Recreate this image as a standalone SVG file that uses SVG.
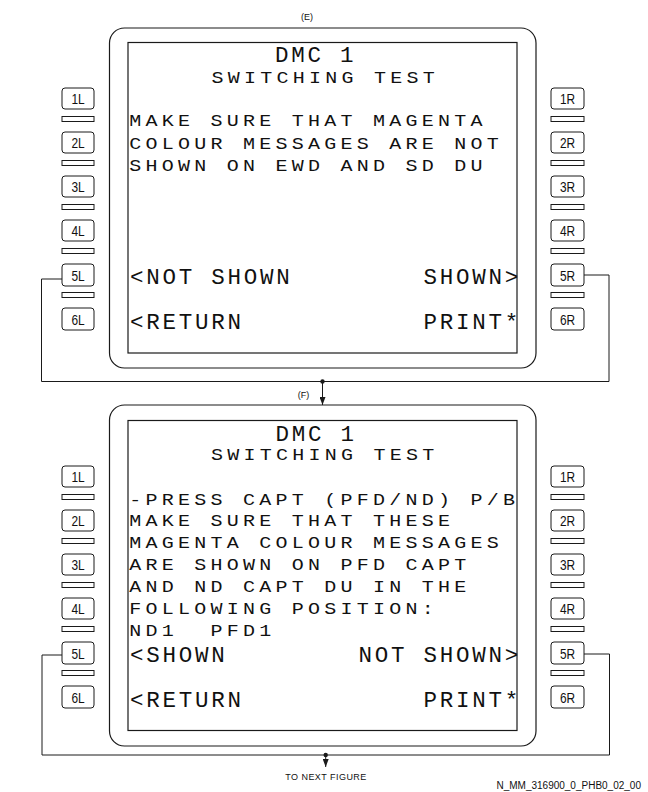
<svg xmlns="http://www.w3.org/2000/svg" width="648" height="792" viewBox="0 0 648 792">
<style>
  .bz{fill:none;stroke:#1a1a1a;stroke-width:1.2}
  .scr{fill:none;stroke:#1a1a1a;stroke-width:1.2}
  .key{fill:#fff;stroke:#1a1a1a;stroke-width:1}
  .sep{fill:#fff;stroke:#1a1a1a;stroke-width:1}
  .kt{font-family:"Liberation Sans",Arial,sans-serif;font-size:14px;text-anchor:middle;fill:#111}
  .b{font-family:"Liberation Mono","DejaVu Sans Mono",monospace;font-size:16px;letter-spacing:3.4px;fill:#111}
  .l{font-family:"Liberation Mono","DejaVu Sans Mono",monospace;font-size:22.5px;letter-spacing:2.75px;fill:#111}
  .sm{font-family:"Liberation Sans",Arial,sans-serif;font-size:9px;fill:#111}
  .cn{fill:none;stroke:#1a1a1a;stroke-width:1}
</style>
<defs>
  <marker id="ah" markerUnits="userSpaceOnUse" markerWidth="9" markerHeight="6" refX="8" refY="3" orient="auto">
    <path d="M0,0 L8,3 L0,6 z" fill="#1a1a1a"/>
  </marker>
</defs>

<text class="sm" x="307" y="19.5" text-anchor="middle">(E)</text>

<!-- Top display -->
<g id="display-top">
  <rect class="bz" x="109.5" y="28" width="426.5" height="340" rx="15"/>
  <rect class="scr" x="128" y="42.5" width="389" height="310.5"/>
  <text class="l" x="275" y="62">DMC 1</text>
  <text class="b" transform="translate(211.5,83) scale(1.25,1)">SWITCHING TEST</text>
  <text class="b" transform="translate(129.2,126) scale(1.25,1)">MAKE SURE THAT MAGENTA</text>
  <text class="b" transform="translate(129.2,148.5) scale(1.25,1)">COLOUR MESSAGES ARE NOT</text>
  <text class="b" transform="translate(129.2,171) scale(1.25,1)">SHOWN ON EWD AND SD DU</text>
  <text class="l" x="130" y="284">&lt;NOT SHOWN</text>
  <text class="l" x="423.5" y="284">SHOWN&gt;</text>
  <text class="l" x="130" y="328.5">&lt;RETURN</text>
  <text class="l" x="423.5" y="328.5">PRINT*</text>
</g>

<g id="keys-top-left">
  <rect class="key" x="62" y="88" width="32" height="21" rx="3"/><text class="kt" transform="translate(78,104) scale(0.85,1)">1L</text>
  <rect class="sep" x="62" y="116.5" width="32" height="5"/>
  <rect class="key" x="62" y="132" width="32" height="21" rx="3"/><text class="kt" transform="translate(78,148) scale(0.85,1)">2L</text>
  <rect class="sep" x="62" y="160.5" width="32" height="5"/>
  <rect class="key" x="62" y="176" width="32" height="21" rx="3"/><text class="kt" transform="translate(78,192) scale(0.85,1)">3L</text>
  <rect class="sep" x="62" y="204.5" width="32" height="5"/>
  <rect class="key" x="62" y="220" width="32" height="21" rx="3"/><text class="kt" transform="translate(78,236) scale(0.85,1)">4L</text>
  <rect class="sep" x="62" y="248.5" width="32" height="5"/>
  <rect class="key" x="62" y="264" width="32" height="22" rx="3"/><text class="kt" transform="translate(78,280.5) scale(0.85,1)">5L</text>
  <rect class="sep" x="62" y="292.5" width="32" height="5"/>
  <rect class="key" x="62" y="308" width="32" height="22" rx="3"/><text class="kt" transform="translate(78,324.5) scale(0.85,1)">6L</text>
</g>
<g id="keys-top-right">
  <rect class="key" x="551" y="88" width="33" height="21" rx="3"/><text class="kt" transform="translate(567.5,104) scale(0.85,1)">1R</text>
  <rect class="sep" x="551" y="116.5" width="33" height="5"/>
  <rect class="key" x="551" y="132" width="33" height="21" rx="3"/><text class="kt" transform="translate(567.5,148) scale(0.85,1)">2R</text>
  <rect class="sep" x="551" y="160.5" width="33" height="5"/>
  <rect class="key" x="551" y="176" width="33" height="21" rx="3"/><text class="kt" transform="translate(567.5,192) scale(0.85,1)">3R</text>
  <rect class="sep" x="551" y="204.5" width="33" height="5"/>
  <rect class="key" x="551" y="220" width="33" height="21" rx="3"/><text class="kt" transform="translate(567.5,236) scale(0.85,1)">4R</text>
  <rect class="sep" x="551" y="248.5" width="33" height="5"/>
  <rect class="key" x="551" y="264" width="33" height="22" rx="3"/><text class="kt" transform="translate(567.5,280.5) scale(0.85,1)">5R</text>
  <rect class="sep" x="551" y="292.5" width="33" height="5"/>
  <rect class="key" x="551" y="308" width="33" height="22" rx="3"/><text class="kt" transform="translate(567.5,324.5) scale(0.85,1)">6R</text>
</g>

<text class="sm" x="303.5" y="398" text-anchor="middle">(F)</text>

<!-- Bottom display -->
<g id="display-bottom">
  <rect class="bz" x="109.5" y="405" width="426.5" height="341" rx="15"/>
  <rect class="scr" x="128" y="420.5" width="389" height="310"/>
  <text class="l" x="275.5" y="441">DMC 1</text>
  <text class="b" transform="translate(211,460) scale(1.25,1)">SWITCHING TEST</text>
  <text class="b" transform="translate(129.2,505) scale(1.25,1)">-PRESS CAPT (PFD/ND) P/B</text>
  <text class="b" transform="translate(129.2,526) scale(1.25,1)">MAKE SURE THAT THESE</text>
  <text class="b" transform="translate(129.2,548) scale(1.25,1)">MAGENTA COLOUR MESSAGES</text>
  <text class="b" transform="translate(129.2,570) scale(1.25,1)">ARE SHOWN ON PFD CAPT</text>
  <text class="b" transform="translate(129.2,592) scale(1.25,1)">AND ND CAPT DU IN THE</text>
  <text class="b" transform="translate(129.2,614) scale(1.25,1)">FOLLOWING POSITION:</text>
  <text class="b" xml:space="preserve" transform="translate(129.2,636) scale(1.25,1)">ND1  PFD1</text>
  <text class="l" x="130" y="661.5">&lt;SHOWN</text>
  <text class="l" x="358.5" y="661.5">NOT SHOWN&gt;</text>
  <text class="l" x="130" y="707">&lt;RETURN</text>
  <text class="l" x="423.5" y="707">PRINT*</text>
</g>

<g id="keys-bottom-left">
  <rect class="key" x="62" y="466" width="32" height="21" rx="3"/><text class="kt" transform="translate(78,482) scale(0.85,1)">1L</text>
  <rect class="sep" x="62" y="494.5" width="32" height="5"/>
  <rect class="key" x="62" y="510" width="32" height="21" rx="3"/><text class="kt" transform="translate(78,526) scale(0.85,1)">2L</text>
  <rect class="sep" x="62" y="538.5" width="32" height="5"/>
  <rect class="key" x="62" y="554" width="32" height="21" rx="3"/><text class="kt" transform="translate(78,570) scale(0.85,1)">3L</text>
  <rect class="sep" x="62" y="582.5" width="32" height="5"/>
  <rect class="key" x="62" y="598" width="32" height="21" rx="3"/><text class="kt" transform="translate(78,614) scale(0.85,1)">4L</text>
  <rect class="sep" x="62" y="626.5" width="32" height="5"/>
  <rect class="key" x="62" y="642" width="32" height="22" rx="3"/><text class="kt" transform="translate(78,658.5) scale(0.85,1)">5L</text>
  <rect class="sep" x="62" y="670.5" width="32" height="5"/>
  <rect class="key" x="62" y="686" width="32" height="22" rx="3"/><text class="kt" transform="translate(78,702.5) scale(0.85,1)">6L</text>
</g>
<g id="keys-bottom-right">
  <rect class="key" x="551" y="466" width="33" height="21" rx="3"/><text class="kt" transform="translate(567.5,482) scale(0.85,1)">1R</text>
  <rect class="sep" x="551" y="494.5" width="33" height="5"/>
  <rect class="key" x="551" y="510" width="33" height="21" rx="3"/><text class="kt" transform="translate(567.5,526) scale(0.85,1)">2R</text>
  <rect class="sep" x="551" y="538.5" width="33" height="5"/>
  <rect class="key" x="551" y="554" width="33" height="21" rx="3"/><text class="kt" transform="translate(567.5,570) scale(0.85,1)">3R</text>
  <rect class="sep" x="551" y="582.5" width="33" height="5"/>
  <rect class="key" x="551" y="598" width="33" height="21" rx="3"/><text class="kt" transform="translate(567.5,614) scale(0.85,1)">4R</text>
  <rect class="sep" x="551" y="626.5" width="33" height="5"/>
  <rect class="key" x="551" y="642" width="33" height="22" rx="3"/><text class="kt" transform="translate(567.5,658.5) scale(0.85,1)">5R</text>
  <rect class="sep" x="551" y="670.5" width="33" height="5"/>
  <rect class="key" x="551" y="686" width="33" height="22" rx="3"/><text class="kt" transform="translate(567.5,702.5) scale(0.85,1)">6R</text>
</g>

<g id="connectors">
  <path class="cn" d="M62,279 H41.5 V381.5 H609 V275 H584"/>
  <circle cx="322.5" cy="381.5" r="2.2" fill="#1a1a1a"/>
  <line class="cn" x1="322.5" y1="381.5" x2="322.5" y2="405" marker-end="url(#ah)"/>
  <path class="cn" d="M62,655 H42 V755 H609.5 V654 H584"/>
  <circle cx="325.7" cy="755" r="2.2" fill="#1a1a1a"/>
  <line class="cn" x1="325.7" y1="755" x2="325.7" y2="767" marker-end="url(#ah)"/>
</g>

<text class="sm" x="326" y="780" text-anchor="middle" style="letter-spacing:0.45px">TO NEXT FIGURE</text>
<text class="sm" x="641" y="789" text-anchor="end" style="font-size:10px">N_MM_316900_0_PHB0_02_00</text>
</svg>
